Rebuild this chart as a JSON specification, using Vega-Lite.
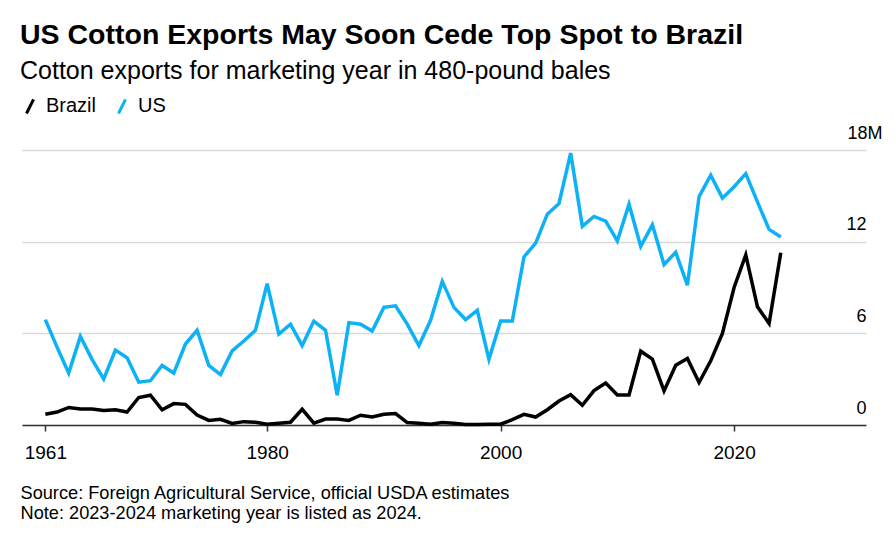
{
  "$schema": "https://vega.github.io/schema/vega-lite/v6.json",
  "width": 844,
  "height": 275,
  "autosize": {"type": "none"},
  "padding": {"left": 22, "top": 150, "right": 29, "bottom": 115},
  "background": "white",
  "title": {
    "text": "US Cotton Exports May Soon Cede Top Spot to Brazil",
    "subtitle": "Cotton exports for marketing year in 480-pound bales",
    "anchor": "start",
    "frame": "group",
    "dx": -2,
    "font": "Liberation Sans",
    "fontSize": 28.5,
    "fontWeight": "bold",
    "color": "#000000",
    "subtitleFont": "Liberation Sans",
    "subtitleFontSize": 25,
    "subtitleColor": "#000000",
    "subtitlePadding": 10,
    "offset": 12
  },
  "config": {"view": {"stroke": null}, "font": "Liberation Sans"},
  "data": {
    "values": [
      {"year": 1961, "country": "US", "exports": 6.9},
      {"year": 1962, "country": "US", "exports": 5.1},
      {"year": 1963, "country": "US", "exports": 3.4},
      {"year": 1964, "country": "US", "exports": 5.8},
      {"year": 1965, "country": "US", "exports": 4.3},
      {"year": 1966, "country": "US", "exports": 3.0},
      {"year": 1967, "country": "US", "exports": 4.9},
      {"year": 1968, "country": "US", "exports": 4.4},
      {"year": 1969, "country": "US", "exports": 2.8},
      {"year": 1970, "country": "US", "exports": 2.9},
      {"year": 1971, "country": "US", "exports": 3.9},
      {"year": 1972, "country": "US", "exports": 3.4},
      {"year": 1973, "country": "US", "exports": 5.3},
      {"year": 1974, "country": "US", "exports": 6.2},
      {"year": 1975, "country": "US", "exports": 3.9},
      {"year": 1976, "country": "US", "exports": 3.3},
      {"year": 1977, "country": "US", "exports": 4.85},
      {"year": 1978, "country": "US", "exports": 5.5},
      {"year": 1979, "country": "US", "exports": 6.2},
      {"year": 1980, "country": "US", "exports": 9.25},
      {"year": 1981, "country": "US", "exports": 5.95},
      {"year": 1982, "country": "US", "exports": 6.6},
      {"year": 1983, "country": "US", "exports": 5.2},
      {"year": 1984, "country": "US", "exports": 6.8},
      {"year": 1985, "country": "US", "exports": 6.2},
      {"year": 1986, "country": "US", "exports": 1.95},
      {"year": 1987, "country": "US", "exports": 6.7},
      {"year": 1988, "country": "US", "exports": 6.6},
      {"year": 1989, "country": "US", "exports": 6.15},
      {"year": 1990, "country": "US", "exports": 7.7},
      {"year": 1991, "country": "US", "exports": 7.8},
      {"year": 1992, "country": "US", "exports": 6.6},
      {"year": 1993, "country": "US", "exports": 5.2},
      {"year": 1994, "country": "US", "exports": 6.85},
      {"year": 1995, "country": "US", "exports": 9.4},
      {"year": 1996, "country": "US", "exports": 7.7},
      {"year": 1997, "country": "US", "exports": 6.9},
      {"year": 1998, "country": "US", "exports": 7.5},
      {"year": 1999, "country": "US", "exports": 4.3},
      {"year": 2000, "country": "US", "exports": 6.8},
      {"year": 2001, "country": "US", "exports": 6.8},
      {"year": 2002, "country": "US", "exports": 11.0},
      {"year": 2003, "country": "US", "exports": 11.9},
      {"year": 2004, "country": "US", "exports": 13.8},
      {"year": 2005, "country": "US", "exports": 14.5},
      {"year": 2006, "country": "US", "exports": 17.8},
      {"year": 2007, "country": "US", "exports": 13.0},
      {"year": 2008, "country": "US", "exports": 13.65},
      {"year": 2009, "country": "US", "exports": 13.35},
      {"year": 2010, "country": "US", "exports": 12.05},
      {"year": 2011, "country": "US", "exports": 14.45},
      {"year": 2012, "country": "US", "exports": 11.7},
      {"year": 2013, "country": "US", "exports": 13.1},
      {"year": 2014, "country": "US", "exports": 10.5},
      {"year": 2015, "country": "US", "exports": 11.3},
      {"year": 2016, "country": "US", "exports": 9.15},
      {"year": 2017, "country": "US", "exports": 14.95},
      {"year": 2018, "country": "US", "exports": 16.35},
      {"year": 2019, "country": "US", "exports": 14.85},
      {"year": 2020, "country": "US", "exports": 15.6},
      {"year": 2021, "country": "US", "exports": 16.45},
      {"year": 2022, "country": "US", "exports": 14.6},
      {"year": 2023, "country": "US", "exports": 12.8},
      {"year": 2024, "country": "US", "exports": 12.3},
      {"year": 1961, "country": "Brazil", "exports": 0.7},
      {"year": 1962, "country": "Brazil", "exports": 0.85},
      {"year": 1963, "country": "Brazil", "exports": 1.15},
      {"year": 1964, "country": "Brazil", "exports": 1.05},
      {"year": 1965, "country": "Brazil", "exports": 1.05},
      {"year": 1966, "country": "Brazil", "exports": 0.95},
      {"year": 1967, "country": "Brazil", "exports": 1.0},
      {"year": 1968, "country": "Brazil", "exports": 0.85},
      {"year": 1969, "country": "Brazil", "exports": 1.8},
      {"year": 1970, "country": "Brazil", "exports": 1.95},
      {"year": 1971, "country": "Brazil", "exports": 1.0},
      {"year": 1972, "country": "Brazil", "exports": 1.4},
      {"year": 1973, "country": "Brazil", "exports": 1.35},
      {"year": 1974, "country": "Brazil", "exports": 0.65},
      {"year": 1975, "country": "Brazil", "exports": 0.3},
      {"year": 1976, "country": "Brazil", "exports": 0.37},
      {"year": 1977, "country": "Brazil", "exports": 0.1},
      {"year": 1978, "country": "Brazil", "exports": 0.22},
      {"year": 1979, "country": "Brazil", "exports": 0.18},
      {"year": 1980, "country": "Brazil", "exports": 0.05},
      {"year": 1981, "country": "Brazil", "exports": 0.12},
      {"year": 1982, "country": "Brazil", "exports": 0.18},
      {"year": 1983, "country": "Brazil", "exports": 1.03},
      {"year": 1984, "country": "Brazil", "exports": 0.12},
      {"year": 1985, "country": "Brazil", "exports": 0.39},
      {"year": 1986, "country": "Brazil", "exports": 0.39},
      {"year": 1987, "country": "Brazil", "exports": 0.3},
      {"year": 1988, "country": "Brazil", "exports": 0.64},
      {"year": 1989, "country": "Brazil", "exports": 0.52},
      {"year": 1990, "country": "Brazil", "exports": 0.7},
      {"year": 1991, "country": "Brazil", "exports": 0.75},
      {"year": 1992, "country": "Brazil", "exports": 0.16},
      {"year": 1993, "country": "Brazil", "exports": 0.12},
      {"year": 1994, "country": "Brazil", "exports": 0.05},
      {"year": 1995, "country": "Brazil", "exports": 0.16},
      {"year": 1996, "country": "Brazil", "exports": 0.12},
      {"year": 1997, "country": "Brazil", "exports": 0.03},
      {"year": 1998, "country": "Brazil", "exports": 0.03},
      {"year": 1999, "country": "Brazil", "exports": 0.05},
      {"year": 2000, "country": "Brazil", "exports": 0.05},
      {"year": 2001, "country": "Brazil", "exports": 0.35},
      {"year": 2002, "country": "Brazil", "exports": 0.7},
      {"year": 2003, "country": "Brazil", "exports": 0.52},
      {"year": 2004, "country": "Brazil", "exports": 1.0},
      {"year": 2005, "country": "Brazil", "exports": 1.57},
      {"year": 2006, "country": "Brazil", "exports": 1.99},
      {"year": 2007, "country": "Brazil", "exports": 1.29},
      {"year": 2008, "country": "Brazil", "exports": 2.25},
      {"year": 2009, "country": "Brazil", "exports": 2.75},
      {"year": 2010, "country": "Brazil", "exports": 1.97},
      {"year": 2011, "country": "Brazil", "exports": 1.97},
      {"year": 2012, "country": "Brazil", "exports": 4.83},
      {"year": 2013, "country": "Brazil", "exports": 4.31},
      {"year": 2014, "country": "Brazil", "exports": 2.23},
      {"year": 2015, "country": "Brazil", "exports": 3.91},
      {"year": 2016, "country": "Brazil", "exports": 4.35},
      {"year": 2017, "country": "Brazil", "exports": 2.78},
      {"year": 2018, "country": "Brazil", "exports": 4.2},
      {"year": 2019, "country": "Brazil", "exports": 5.99},
      {"year": 2020, "country": "Brazil", "exports": 9.0},
      {"year": 2021, "country": "Brazil", "exports": 11.13},
      {"year": 2022, "country": "Brazil", "exports": 7.74},
      {"year": 2023, "country": "Brazil", "exports": 6.65},
      {"year": 2024, "country": "Brazil", "exports": 11.28}
    ]
  },
  "mark": {"type": "line", "strokeWidth": 3.5},
  "encoding": {
    "x": {
      "field": "year",
      "type": "quantitative",
      "scale": {"domain": [1959, 2031.3], "nice": false, "zero": false},
      "axis": {
        "values": [1961, 1980, 2000, 2020],
        "format": "d",
        "grid": false,
        "domainColor": "#333333",
        "domainWidth": 1.5,
        "tickColor": "#333333",
        "tickWidth": 1.5,
        "tickSize": 6,
        "labelFont": "Liberation Sans",
        "labelFontSize": 19,
        "labelColor": "#000000",
        "labelPadding": 12,
        "title": ["Source: Foreign Agricultural Service, official USDA estimates", "Note: 2023-2024 marketing year is listed as 2024."],
        "titleFont": "Liberation Sans",
        "titleFontSize": 18.2,
        "titleFontWeight": "normal",
        "titleColor": "#000000",
        "titleAnchor": "start",
        "titleAlign": "left",
        "titleBaseline": "alphabetic",
        "titleLineHeight": 20,
        "titleX": -2,
        "titleY": 73
      }
    },
    "y": {
      "field": "exports",
      "type": "quantitative",
      "scale": {"domain": [0, 18], "nice": false},
      "axis": {
        "orient": "right",
        "values": [0, 6, 12, 18],
        "labelExpr": "datum.value == 18 ? '18M' : datum.label",
        "grid": true,
        "gridColor": "#d9d9d9",
        "gridWidth": 1.5,
        "domain": false,
        "ticks": false,
        "tickSize": 0,
        "labelPadding": {"condition": {"test": "datum.value == 18", "value": 16}, "value": 0},
        "labelAlign": "right",
        "labelBaseline": "alphabetic",
        "labelOffset": -12,
        "labelFont": "Liberation Sans",
        "labelFontSize": 18,
        "labelColor": "#000000",
        "title": null
      }
    },
    "color": {
      "field": "country",
      "type": "nominal",
      "scale": {"domain": ["Brazil", "US"], "range": ["#000000", "#0db1f5"]},
      "legend": {
        "title": null,
        "orient": "none",
        "legendX": -2,
        "legendY": -54,
        "direction": "horizontal",
        "symbolType": "M-0.5,1L0.5,-1",
        "symbolSize": 200,
        "symbolStrokeWidth": 3,
        "labelFont": "Liberation Sans",
        "labelFontSize": 20,
        "labelColor": "#000000",
        "labelOffset": 6,
        "columnPadding": 15
      }
    }
  }
}
